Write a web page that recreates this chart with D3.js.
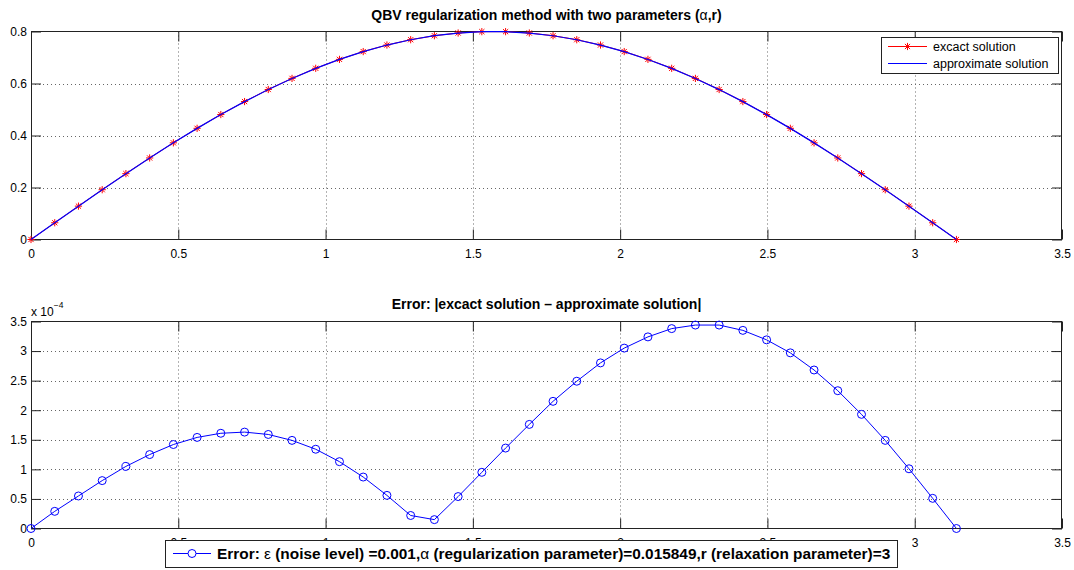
<!DOCTYPE html>
<html>
<head>
<meta charset="utf-8">
<script src="https://cdn.jsdelivr.net/npm/d3@7"></script>
<style>
  body { margin: 0; background: #fff; }
  svg { display: block; font-family: "Liberation Sans", Arial, Helvetica, sans-serif; }
</style>
</head>
<body>
<svg id="fig"></svg>
<script>
const width = 1074;
const height = 570;

// 40 sample points on [0, pi]
const xValues = [0, 0.0806, 0.1611, 0.2417, 0.3222, 0.4028, 0.4833, 0.5639, 0.6444, 0.7250,
  0.8055, 0.8861, 0.9666, 1.0472, 1.1278, 1.2083, 1.2889, 1.3694, 1.4500, 1.5305,
  1.6111, 1.6916, 1.7722, 1.8527, 1.9333, 2.0138, 2.0944, 2.1750, 2.2555, 2.3361,
  2.4166, 2.4972, 2.5777, 2.6583, 2.7388, 2.8194, 2.8999, 2.9805, 3.0610, 3.1416];

const exactValues = [0, 0.0644, 0.1283, 0.1915, 0.2533, 0.3136, 0.3718, 0.4276, 0.4806, 0.5305,
  0.5769, 0.6196, 0.6584, 0.6928, 0.7228, 0.7480, 0.7684, 0.7838, 0.7942, 0.7994,
  0.7994, 0.7942, 0.7838, 0.7684, 0.7480, 0.7228, 0.6928, 0.6584, 0.6196, 0.5769,
  0.5305, 0.4806, 0.4276, 0.3718, 0.3136, 0.2533, 0.1915, 0.1283, 0.0644, 0];

const approxValues = [0, 0.0644, 0.1282, 0.1914, 0.2532, 0.3135, 0.3717, 0.4274, 0.4804, 0.5303,
  0.5767, 0.6195, 0.6583, 0.6927, 0.7227, 0.7479, 0.7684, 0.7838, 0.7941, 0.7993,
  0.7993, 0.7940, 0.7836, 0.7682, 0.7477, 0.7225, 0.6925, 0.6581, 0.6193, 0.5766,
  0.5302, 0.4803, 0.4274, 0.3716, 0.3134, 0.2531, 0.1915, 0.1283, 0.0644, 0];

// error, in units of 1e-4
const errorValues = [0, 0.29, 0.55, 0.81, 1.05, 1.25, 1.42, 1.54, 1.61, 1.63,
  1.59, 1.49, 1.34, 1.13, 0.87, 0.56, 0.22, 0.15, 0.54, 0.95,
  1.36, 1.76, 2.15, 2.49, 2.80, 3.05, 3.24, 3.38, 3.44, 3.44,
  3.35, 3.19, 2.97, 2.68, 2.33, 1.93, 1.49, 1.01, 0.51, 0];

const xTicks = [0, 0.5, 1, 1.5, 2, 2.5, 3, 3.5];
const topYTicks = [0, 0.2, 0.4, 0.6, 0.8];
const bottomYTicks = [0, 0.5, 1, 1.5, 2, 2.5, 3, 3.5];

const svg = d3.select("#fig")
    .attr("width", width)
    .attr("height", height);

const left = 31, right = 1062;

const x = d3.scaleLinear().domain([0, 3.5]).range([left, right]);
const yTop = d3.scaleLinear().domain([0, 0.8]).range([239.5, 31.5]);
const yBot = d3.scaleLinear().domain([0, 3.5]).range([528.5, 321.5]);

const fmt = d => String(d);

function drawFrame(y, yTicks) {
  const [y0, y1] = y.range();
  const g = svg.append("g");

  // dotted grid
  g.append("g")
    .selectAll("line")
    .data(xTicks.filter(d => d > 0 && d < 3.5))
    .join("line")
      .attr("x1", d => Math.round(x(d)) + 0.5)
      .attr("x2", d => Math.round(x(d)) + 0.5)
      .attr("y1", y1)
      .attr("y2", y0)
      .attr("stroke", "#666")
      .attr("stroke-dasharray", "1,3");
  g.append("g")
    .selectAll("line")
    .data(yTicks.filter(d => d > y.domain()[0] && d < y.domain()[1]))
    .join("line")
      .attr("x1", left)
      .attr("x2", right)
      .attr("y1", d => Math.round(y(d)) + 0.5)
      .attr("y2", d => Math.round(y(d)) + 0.5)
      .attr("stroke", "#666")
      .attr("stroke-dasharray", "1,3");

  const style = a => {
    a.select(".domain").remove();
    a.selectAll(".tick line").attr("stroke", "#222");
    a.selectAll(".tick text").attr("fill", "#000").attr("font-size", 12)
      .attr("font-family", "Liberation Sans, Arial, sans-serif");
  };

  g.append("g")
      .attr("transform", `translate(0,${y0})`)
      .call(d3.axisBottom(x).tickValues(xTicks).tickFormat(fmt).tickSize(-10).tickPadding(10))
      .call(style);
  g.append("g")
      .attr("transform", `translate(0,${y1})`)
      .call(d3.axisTop(x).tickValues(xTicks).tickFormat("").tickSize(-10))
      .call(style);
  g.append("g")
      .attr("transform", `translate(${left},0)`)
      .call(d3.axisLeft(y).tickValues(yTicks).tickFormat(fmt).tickSize(-10).tickPadding(4))
      .call(style);
  g.append("g")
      .attr("transform", `translate(${right},0)`)
      .call(d3.axisRight(y).tickValues(yTicks).tickFormat("").tickSize(-10))
      .call(style);

  g.append("rect")
      .attr("x", left + 0.5)
      .attr("y", y1)
      .attr("width", right - left - 1)
      .attr("height", y0 - y1)
      .attr("fill", "none")
      .attr("stroke", "#222");
  return g;
}

function starPath(cx, cy, r) {
  const d = r * 0.72;
  return `M${cx - r},${cy}H${cx + r}M${cx},${cy - r}V${cy + r}` +
    `M${cx - d},${cy - d}L${cx + d},${cy + d}M${cx - d},${cy + d}L${cx + d},${cy - d}`;
}

// ---- top plot
drawFrame(yTop, topYTicks);

svg.append("text")
    .attr("x", (left + right) / 2)
    .attr("y", 19.5)
    .attr("text-anchor", "middle")
    .attr("font-size", 14)
    .attr("font-weight", "bold")
    .call(t => {
      t.append("tspan").text("QBV regularization method with two parameters (");
      t.append("tspan").attr("font-weight", "normal").text("α");
      t.append("tspan").text(",r)");
    });

svg.append("g")
  .selectAll("path")
  .data(xValues)
  .join("path")
    .attr("d", (d, i) => starPath(x(d), yTop(exactValues[i]), 3.6))
    .attr("stroke", "#ff0000")
    .attr("fill", "none");

svg.append("path")
    .datum(xValues)
    .attr("fill", "none")
    .attr("stroke", "#ff0000")
    .attr("d", d3.line().x(d => x(d)).y((d, i) => yTop(exactValues[i])));

svg.append("path")
    .datum(xValues)
    .attr("fill", "none")
    .attr("stroke", "#0000ff")
    .attr("stroke-width", 1.2)
    .attr("d", d3.line().x(d => x(d)).y((d, i) => yTop(approxValues[i])));

// top legend
const lg = svg.append("g");
lg.append("rect")
    .attr("x", 881.5).attr("y", 37.5)
    .attr("width", 177).attr("height", 36)
    .attr("fill", "#fff").attr("stroke", "#222");
lg.append("line")
    .attr("x1", 888).attr("x2", 927).attr("y1", 46.5).attr("y2", 46.5)
    .attr("stroke", "#ff0000");
lg.append("path")
    .attr("d", starPath(907.5, 46.5, 3.6))
    .attr("stroke", "#ff0000").attr("fill", "none");
lg.append("line")
    .attr("x1", 888).attr("x2", 927).attr("y1", 63.5).attr("y2", 63.5)
    .attr("stroke", "#0000ff")
    .attr("stroke-width", 1.2);
lg.append("text")
    .attr("x", 933).attr("y", 51)
    .attr("font-size", 12.5)
    .text("excact solution");
lg.append("text")
    .attr("x", 933).attr("y", 68)
    .attr("font-size", 12.5)
    .text("approximate solution");

// ---- bottom plot
drawFrame(yBot, bottomYTicks);

svg.append("text")
    .attr("x", (left + right) / 2)
    .attr("y", 308.5)
    .attr("text-anchor", "middle")
    .attr("font-size", 14)
    .attr("font-weight", "bold")
    .text("Error: |excact solution – approximate solution|");

svg.append("text")
    .attr("x", 31)
    .attr("y", 315.5)
    .attr("font-size", 12)
    .call(t => {
      t.append("tspan").text("x 10");
      t.append("tspan").attr("font-size", 8.5).attr("dy", -8).text("−4");
    });

svg.append("path")
    .datum(xValues)
    .attr("fill", "none")
    .attr("stroke", "#0000ff")
    .attr("d", d3.line().x(d => x(d)).y((d, i) => yBot(errorValues[i])));

svg.append("g")
  .selectAll("circle")
  .data(xValues)
  .join("circle")
    .attr("cx", d => x(d))
    .attr("cy", (d, i) => yBot(errorValues[i]))
    .attr("r", 4)
    .attr("fill", "none")
    .attr("stroke", "#0000ff");

// bottom legend
const lb = svg.append("g");
lb.append("rect")
    .attr("x", 165.5).attr("y", 540.5)
    .attr("width", 732).attr("height", 27)
    .attr("fill", "#fff").attr("stroke", "#222");
lb.append("line")
    .attr("x1", 173).attr("x2", 211).attr("y1", 553.5).attr("y2", 553.5)
    .attr("stroke", "#0000ff");
lb.append("circle")
    .attr("cx", 192).attr("cy", 553.5).attr("r", 4)
    .attr("fill", "#fff").attr("stroke", "#0000ff");
lb.append("text")
    .attr("x", 217).attr("y", 559)
    .attr("font-size", 15.4)
    .attr("font-weight", "bold")
    .call(t => {
      t.append("tspan").text("Error: ");
      t.append("tspan").attr("font-weight", "normal").text("ε");
      t.append("tspan").text(" (noise level) =0.001,");
      t.append("tspan").attr("font-weight", "normal").text("α");
      t.append("tspan").text(" (regularization parameter)=0.015849,r (relaxation parameter)=3");
    });
</script>
</body>
</html>
